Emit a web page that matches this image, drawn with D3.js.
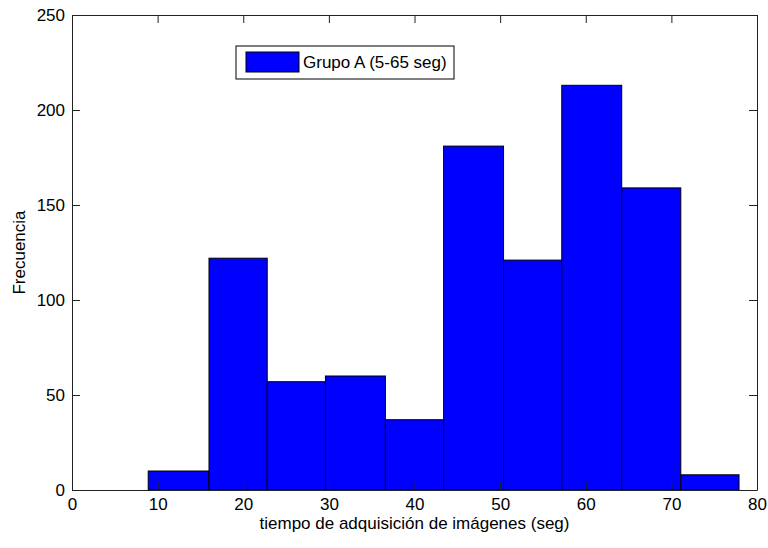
<!DOCTYPE html>
<html>
<head>
<meta charset="utf-8">
<script src="https://cdn.jsdelivr.net/npm/d3@7"></script>
<style>
  body { margin: 0; background: #fff; }
  text { font-family: "Liberation Sans", Arial, sans-serif; font-size: 17px; fill: #000; }
</style>
</head>
<body>
<div id="chart"></div>
<script>
// Histogram bin edges (seg) and counts
var binEdges = [8.9, 16.0, 22.8, 29.6, 36.6, 43.4, 50.4, 57.2, 64.2, 71.1, 77.9];
var counts = [10, 122, 57, 60, 37, 181, 121, 213, 159, 8];
var xTicks = [0, 10, 20, 30, 40, 50, 60, 70, 80];
var yTicks = [0, 50, 100, 150, 200, 250];
var seriesName = "Grupo A (5-65 seg)";

function init() {
    var w = 768, h = 548;
    var left = 72, right = 757, top = 15, bottom = 490;

    var x = d3.scaleLinear().domain([0, 80]).range([left, right]);
    var y = d3.scaleLinear().domain([0, 250]).range([bottom, top]);

    var svg = d3.select("#chart").append("svg")
        .attr("width", w).attr("height", h);

    // bars
    svg.selectAll("rect.bar")
        .data(counts)
        .enter()
        .append("rect")
        .attr("class", "bar")
        .attr("x", function(d, i) { return x(binEdges[i]); })
        .attr("y", function(d) { return y(d); })
        .attr("width", function(d, i) { return x(binEdges[i + 1]) - x(binEdges[i]); })
        .attr("height", function(d) { return y(0) - y(d); })
        .attr("fill", "#0000ff")
        .attr("stroke", "#000")
        .attr("stroke-width", 1);

    // axes with inward ticks, on all four sides
    var tl = 8;
    svg.append("g").attr("transform", "translate(0," + bottom + ")")
        .call(d3.axisBottom(x).tickValues(xTicks).tickSizeInner(-tl).tickSizeOuter(0).tickPadding(8));
    svg.append("g").attr("transform", "translate(0," + top + ")")
        .call(d3.axisTop(x).tickValues(xTicks).tickSizeInner(-tl).tickSizeOuter(0).tickFormat(""));
    svg.append("g").attr("transform", "translate(" + left + ",0)")
        .call(d3.axisLeft(y).tickValues(yTicks).tickSizeInner(-tl).tickSizeOuter(0).tickPadding(7));
    svg.append("g").attr("transform", "translate(" + right + ",0)")
        .call(d3.axisRight(y).tickValues(yTicks).tickSizeInner(-tl).tickSizeOuter(0).tickFormat(""));

    svg.selectAll(".domain, .tick line").attr("stroke", "#222");
    svg.selectAll(".tick text").style("font-size", "17px").attr("fill", "#000");

    // axis labels
    svg.append("text")
        .attr("x", (left + right) / 2).attr("y", 529)
        .attr("text-anchor", "middle")
        .text("tiempo de adquisición de imágenes (seg)");
    svg.append("text")
        .attr("transform", "translate(25," + (top + bottom) / 2 + ") rotate(-90)")
        .attr("text-anchor", "middle")
        .text("Frecuencia");

    // legend
    var lg = svg.append("g").attr("transform", "translate(236,46)");
    lg.append("rect").attr("width", 218).attr("height", 33)
        .attr("fill", "#fff").attr("stroke", "#000");
    lg.append("rect").attr("x", 10).attr("y", 6).attr("width", 53).attr("height", 20)
        .attr("fill", "#0000ff").attr("stroke", "#000");
    lg.append("text").attr("x", 67).attr("y", 22).text(seriesName);
}

window.onload = init;
</script>
</body>
</html>
